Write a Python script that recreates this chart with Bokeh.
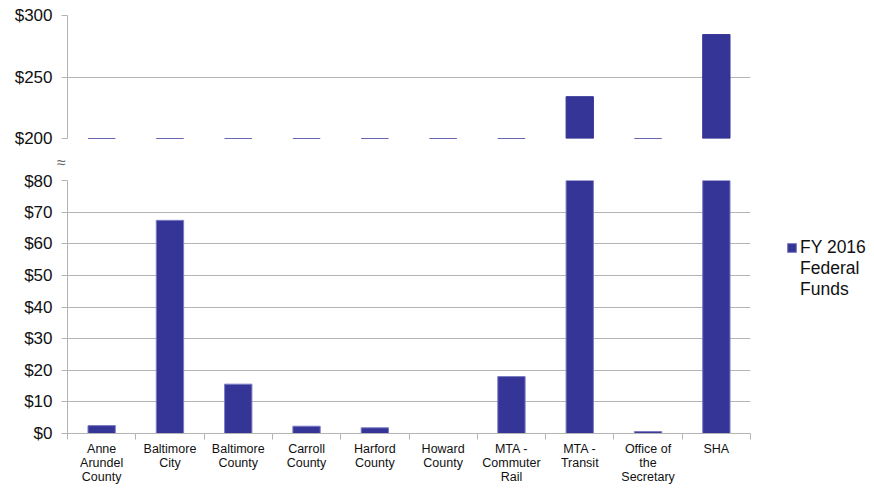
import numpy as np
from bokeh.plotting import figure
from bokeh.layouts import column
from bokeh.models import (ColumnDataSource, FixedTicker, Range1d, Legend, LegendItem,
                          PrintfTickFormatter, Div)
from bokeh.embed import file_html
from bokeh.resources import INLINE

categories = ["Anne\nArundel\nCounty", "Baltimore\nCity", "Baltimore\nCounty", "Carroll\nCounty",
              "Harford\nCounty", "Howard\nCounty", "MTA -\nCommuter\nRail", "MTA -\nTransit",
              "Office of\nthe\nSecretary", "SHA"]
values = [2.5, 67.4, 15.6, 2.3, 1.8, 0.0, 18.0, 234.0, 0.6, 284.5]
series_first_line = "FY 2016"
series_rest = "Federal\nFunds"
top_ticks = [200, 250, 300]
bottom_ticks = [0, 10, 20, 30, 40, 50, 60, 70, 80]
break_mark = "≈"

FONT = "Liberation Sans"
BAR = "#353597"
EDGE = "#7b7bc4"
GRID = "#b4b4b4"

n = len(categories)
xs = np.arange(n) + 0.5
vals = np.array(values)

src_top = ColumnDataSource(dict(x=xs, top=np.maximum(vals, 200), bottom=np.full(n, 200.0)))
src_bot = ColumnDataSource(dict(x=xs, top=vals))

FW = 683
LB = 67
TOTAL_W = 866


def style(p, ticks):
    p.x_range = Range1d(0, n)
    p.background_fill_color = "white"
    p.border_fill_color = "white"
    p.outline_line_color = None
    p.xgrid.grid_line_color = None
    p.ygrid.grid_line_color = GRID
    p.ygrid.grid_line_width = 1
    p.yaxis.ticker = FixedTicker(ticks=ticks)
    p.yaxis.formatter = PrintfTickFormatter(format="$%d")
    p.yaxis.axis_line_color = GRID
    p.yaxis.major_tick_line_color = GRID
    p.yaxis.major_tick_out = 6
    p.yaxis.major_tick_in = 0
    p.yaxis.minor_tick_line_color = None
    p.yaxis.major_label_text_font = FONT
    p.yaxis.major_label_text_font_size = "17px"
    p.yaxis.major_label_text_color = "#111111"
    p.yaxis.major_label_standoff = 9


top = figure(frame_width=FW, frame_height=123, output_backend="svg", toolbar_location=None,
             y_range=Range1d(200, 300), min_border_left=LB, min_border_right=TOTAL_W - LB - FW,
             min_border_top=15, min_border_bottom=9)
style(top, top_ticks)
top.xaxis.visible = False
top.vbar(x="x", top="top", bottom="bottom", width=0.4, source=src_top,
         fill_color=BAR, line_color=BAR, line_width=1)

# thin strip between the panels holding the axis-break mark
mid = Div(text=break_mark, width=TOTAL_W, height=24, margin=0,
          styles={"padding-left": "57px", "padding-top": "9px", "font-family": FONT,
                  "font-size": "16px", "line-height": "14px", "color": "#666666",
                  "box-sizing": "border-box", "overflow": "hidden"})

bot = figure(frame_width=FW, frame_height=253, output_backend="svg", toolbar_location=None,
             y_range=Range1d(0, 80), min_border_left=LB, min_border_right=0,
             min_border_top=9, min_border_bottom=55)
style(bot, bottom_ticks)
r = bot.vbar(x="x", top="top", width=0.4, source=src_bot,
             fill_color=BAR, line_color=EDGE, line_width=1)
ghost = bot.vbar(x=[], top=[], width=0.4, fill_alpha=0, line_alpha=0)

bot.xaxis.ticker = FixedTicker(ticks=list(xs), minor_ticks=list(np.arange(n + 1)))
bot.xaxis.major_label_overrides = {float(x): c for x, c in zip(xs, categories)}
bot.xaxis.major_tick_line_color = None
bot.xaxis.minor_tick_line_color = GRID
bot.xaxis.minor_tick_out = 6
bot.xaxis.minor_tick_in = 0
bot.xaxis.axis_line_color = GRID
bot.xaxis.major_label_text_font = FONT
bot.xaxis.major_label_text_font_size = "12.5px"
bot.xaxis.major_label_text_color = "#111111"
bot.xaxis.major_label_text_line_height = 1.0
bot.xaxis.major_label_standoff = 2

legend = Legend(items=[LegendItem(label=series_first_line, renderers=[r]),
                       LegendItem(label=series_rest, renderers=[ghost])],
                location=(36, 133), label_text_font=FONT, label_text_font_size="17.5px",
                label_text_color="#111111", border_line_color=None, background_fill_alpha=0,
                glyph_width=11, glyph_height=11, label_standoff=3, padding=0, margin=0,
                label_height=22, spacing=0, label_text_line_height=1.2)
bot.add_layout(legend, "right")

layout = column(top, mid, bot, spacing=0)
open("out.html", "w").write(file_html(layout, INLINE))
